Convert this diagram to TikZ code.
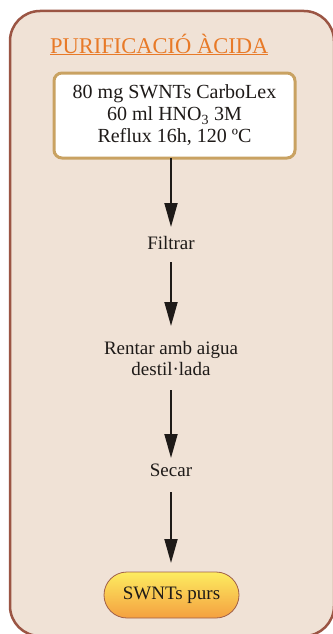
\documentclass[tikz,border=0pt]{standalone}
\usepackage{fontspec}
\setmainfont{Liberation Serif}
\usetikzlibrary{arrows.meta,shapes.misc}
\definecolor{outerfill}{HTML}{F0E2D6}
\definecolor{outerdraw}{HTML}{9B5544}
\definecolor{titlecol}{HTML}{E87A28}
\definecolor{boxdraw}{HTML}{C9A262}
\definecolor{pilltop}{HTML}{FDEC60}
\definecolor{pillbot}{HTML}{F4A040}
\definecolor{pilldraw}{HTML}{A0604A}
\definecolor{ink}{HTML}{1E1A18}
\tikzset{
  flowarrow/.style={draw=ink, line width=1.8pt, -{Triangle[length=24pt,width=13pt]}},
  steptext/.style={font=\fontsize{19}{21}\selectfont, text=ink, align=center, inner sep=0pt},
}
\begin{document}
\begin{tikzpicture}[x=1pt,y=-1pt]
\useasboundingbox (0,0) rectangle (332,634);
\fill[white] (0,0) rectangle (332,634);
\draw[draw=outerdraw, fill=outerfill, line width=2.5pt, rounded corners=30pt] (10,11) rectangle (334,636);
\node[anchor=base west, inner sep=0pt, text=titlecol, font=\fontsize{22.5}{25}\selectfont] (title) at (50,53) {\underline{PURIFICACIÓ ÀCIDA}};
\node[draw=boxdraw, fill=white, line width=3pt, rounded corners=8pt, minimum width=241pt, minimum height=85pt, align=center, font=\fontsize{20}{22}\selectfont, text=ink, inner sep=0pt] (start) at (174.5,115.5) {80 mg SWNTs CarboLex\\60 ml HNO\textsubscript{3} 3M\\Reflux 16h, 120 ºC};
\node[steptext] (filtrar) at (171,243) {Filtrar};
\node[steptext] (rentar) at (171,358) {Rentar amb aigua\\destil·lada};
\node[steptext] (secar) at (171,470) {Secar};
\node[draw=pilldraw, line width=0.8pt, rounded rectangle, top color=pilltop, bottom color=pillbot, minimum width=135pt, minimum height=46pt, inner sep=0pt, steptext] (end) at (171.5,595) {SWNTs purs};
\coordinate (a1s) at (171,158);
\coordinate (a1e) at (171,227);
\coordinate (a2s) at (171,262);
\coordinate (a2e) at (171,326);
\coordinate (a3s) at (171,390);
\coordinate (a3e) at (171,458);
\coordinate (a4s) at (171,492);
\coordinate (a4e) at (171,563);
\draw[flowarrow] (a1s) -- (a1e);
\draw[flowarrow] (a2s) -- (a2e);
\draw[flowarrow] (a3s) -- (a3e);
\draw[flowarrow] (a4s) -- (a4e);
\end{tikzpicture}
\end{document}
